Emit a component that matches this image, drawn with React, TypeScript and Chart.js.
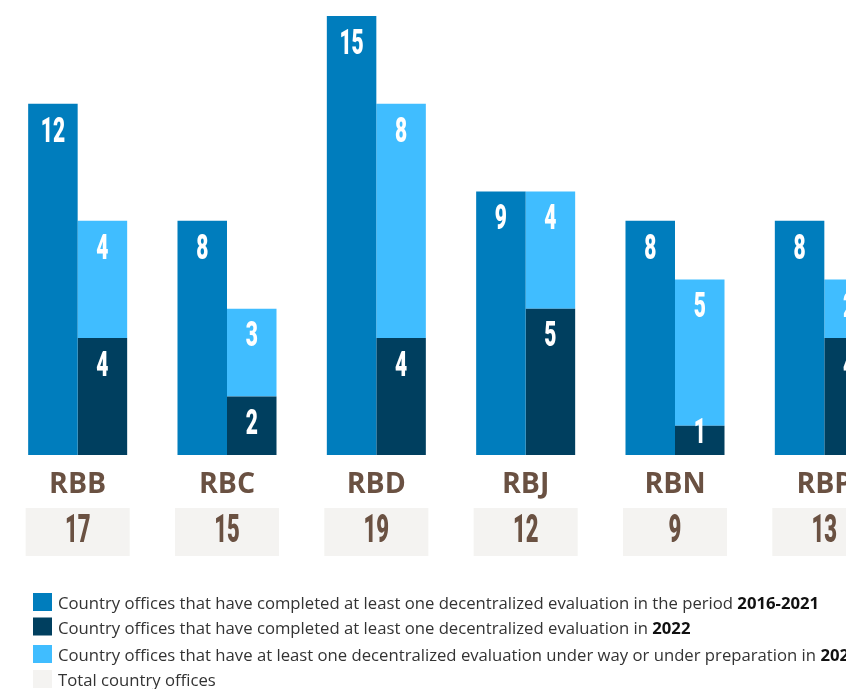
import React, { useEffect, useRef } from "react";
import { Chart, registerables } from "chart.js";

Chart.register(...registerables);

const categories = ["RBB", "RBC", "RBD", "RBJ", "RBN", "RBP"];
const completed2016to2021 = [12, 8, 15, 9, 8, 8];
const completed2022 = [4, 2, 4, 5, 1, 4];
const underWay2023 = [4, 3, 8, 4, 5, 2];
const totalOffices = [17, 15, 19, 12, 9, 13];

const legendTexts = [
  "Country offices that have completed at least one decentralized evaluation in the period ",
  "Country offices that have completed at least one decentralized evaluation in ",
  "Country offices that have at least one decentralized evaluation under way or under preparation in ",
  "Total country offices",
];
const legendBold = ["2016-2021", "2022", "2023", ""];

const COLOR_MID = "#007dbd";
const COLOR_DARK = "#003f5f";
const COLOR_LIGHT = "#40bdff";
const COLOR_BOX = "#f4f3f1";
const COLOR_BROWN = "#6a5142";
const legendColors = [COLOR_MID, COLOR_DARK, COLOR_LIGHT, COLOR_BOX];

function drawScaled(ctx: CanvasRenderingContext2D, text: string, x: number, y: number, sx: number) {
  ctx.save();
  ctx.translate(x, y);
  ctx.scale(sx, 1);
  ctx.fillText(text, 0, 0);
  ctx.restore();
}

const decorPlugin = {
  id: "decor",
  afterDatasetsDraw(chart: any) {
    const ctx: CanvasRenderingContext2D = chart.ctx;
    ctx.save();
    // value labels
    ctx.fillStyle = "#ffffff";
    ctx.font = "900 35px Roboto";
    ctx.textAlign = "center";
    ctx.textBaseline = "middle";
    chart.data.datasets.forEach((ds: any, di: number) => {
      const meta = chart.getDatasetMeta(di);
      meta.data.forEach((bar: any, i: number) => {
        const v = ds.data[i];
        if (!v) return;
        const top = Math.min(bar.y, bar.base);
        const bottom = Math.max(bar.y, bar.base);
        const cy = Math.min(top + 28, bottom - 22);
        drawScaled(ctx, String(v), bar.x, cy + 1, 0.6);
      });
    });
    // category labels and total boxes
    const xs = chart.scales.x;
    categories.forEach((c, i) => {
      const cx = xs.getPixelForValue(i);
      ctx.fillStyle = COLOR_BROWN;
      ctx.font = "bold 28.5px 'Open Sans'";
      ctx.textAlign = "center";
      ctx.textBaseline = "alphabetic";
      ctx.fillText(c, cx, 493);
      ctx.fillStyle = COLOR_BOX;
      ctx.fillRect(cx - 52, 508, 104, 48);
      ctx.fillStyle = COLOR_BROWN;
      ctx.font = "900 38px Roboto";
      ctx.textBaseline = "middle";
      drawScaled(ctx, String(totalOffices[i]), cx, 532, 0.58);
    });
    // legend
    const baselines = [609, 633.5, 661, 686];
    const sx = 1.0;
    legendTexts.forEach((t, i) => {
      const b = baselines[i];
      ctx.fillStyle = legendColors[i];
      ctx.fillRect(33, b - 16, 19, 18);
      ctx.save();
      ctx.translate(58, b);
      ctx.scale(sx, 1);
      ctx.textAlign = "left";
      ctx.textBaseline = "alphabetic";
      ctx.font = "16.7px 'Open Sans'";
      ctx.fillStyle = "#333333";
      ctx.fillText(t, 0, 0);
      const w = ctx.measureText(t).width;
      ctx.font = "bold 16.7px 'Open Sans'";
      ctx.fillStyle = "#111111";
      ctx.fillText(legendBold[i], w, 0);
      ctx.restore();
    });
    ctx.restore();
  },
};

export default function App() {
  const ref = useRef<HTMLCanvasElement>(null);
  useEffect(() => {
    document.body.style.overflow = "hidden";
    const chart = new Chart(ref.current!, {
      type: "bar",
      data: {
        labels: categories,
        datasets: [
          { label: "2016-2021", data: completed2016to2021, backgroundColor: COLOR_MID, stack: "a" },
          { label: "2022", data: completed2022, backgroundColor: COLOR_DARK, stack: "b" },
          { label: "2023", data: underWay2023, backgroundColor: COLOR_LIGHT, stack: "b" },
        ],
      },
      options: {
        responsive: false,
        animation: false,
        devicePixelRatio: 1,
        categoryPercentage: 0.663,
        barPercentage: 1,
        layout: { padding: { left: 3, right: 1, top: 16, bottom: 234 } },
        scales: {
          x: { stacked: true, display: false },
          y: { stacked: true, display: false, min: 0, max: 15 },
        },
        plugins: { legend: { display: false }, tooltip: { enabled: false } },
      },
      plugins: [decorPlugin],
    } as any);
    return () => chart.destroy();
  }, []);
  return (
    <div style={{ position: "fixed", left: 0, top: 0, width: 846, height: 689, overflow: "hidden", background: "#fff" }}>
      <canvas ref={ref} width={900} height={689} style={{ display: "block" }} />
    </div>
  );
}
